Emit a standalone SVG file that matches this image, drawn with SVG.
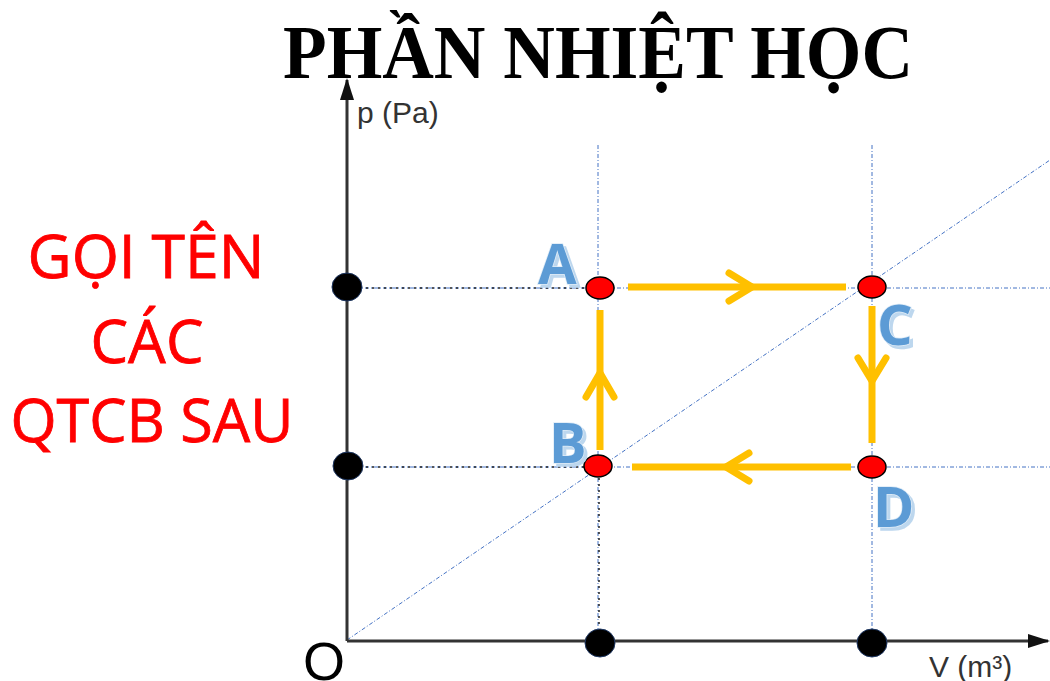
<svg xmlns="http://www.w3.org/2000/svg" width="1050" height="681" viewBox="0 0 1050 681">
<style>
.guide{stroke:#4472C4;stroke-width:1;stroke-dasharray:4 2 1 2;fill:none}
.blk{stroke:#222;stroke-width:1.5;stroke-dasharray:2 4;fill:none}
.axis{stroke:#333;stroke-width:3;fill:none}
.yel{stroke:#FFC000;stroke-width:7;stroke-linecap:round;fill:none}
.yelb{stroke:#FFC000;stroke-width:7;stroke-linecap:butt;fill:none}
.bdot{fill:#000;stroke:#1F3864;stroke-width:1}
.rdot{fill:#FF0000;stroke:#000;stroke-width:1.5}
.lbl{font-family:"Open Sans","Liberation Sans",sans-serif;font-weight:bold;font-size:56px;fill:#5B9BD5;stroke:#DEEBF7;stroke-width:1.5;paint-order:stroke;filter:url(#glow)}
.red{font-family:"Open Sans","Liberation Sans",sans-serif;font-size:60px;fill:#FF0000;stroke:#FF0000;stroke-width:0.8}
.ax{font-family:"Liberation Sans",Arial,sans-serif;font-size:30px;fill:#333}
</style>
<defs>
<marker id="ah" markerWidth="22" markerHeight="14" refX="20" refY="7" orient="auto" markerUnits="userSpaceOnUse" viewBox="0 0 22 14">
<path d="M0,0 L22,7 L0,14 z" fill="#111"/>
</marker>
<filter id="glow" x="-20%" y="-20%" width="150%" height="150%">
<feDropShadow dx="3" dy="3" stdDeviation="0.5" flood-color="#BDD7EE" flood-opacity="1"/>
</filter>
</defs>
<text x="598" y="78" text-anchor="middle" font-family="'Liberation Serif','Times New Roman',serif" font-weight="bold" font-size="76" textLength="630" lengthAdjust="spacingAndGlyphs" fill="#000">PHẦN NHIỆT HỌC</text>
<g id="guides">
<line class="guide" x1="347" y1="288" x2="1050" y2="288"/>
<line class="guide" x1="347" y1="467" x2="1050" y2="467"/>
<line class="guide" x1="598" y1="145" x2="598" y2="641"/>
<line class="guide" x1="872" y1="145" x2="872" y2="641"/>
<line class="guide" x1="347" y1="640" x2="1050" y2="160"/>
<line class="blk" x1="360" y1="288" x2="586" y2="288"/>
<line class="blk" x1="360" y1="467" x2="584" y2="467"/>
<line class="blk" x1="599" y1="478" x2="599" y2="628"/>
</g>
<g id="axes">
<line class="axis" x1="347" y1="641" x2="347" y2="80" marker-end="url(#ah)"/>
<line class="axis" x1="347" y1="641" x2="1048" y2="641" marker-end="url(#ah)"/>
<text class="ax" x="357" y="123">p (Pa)</text>
<text class="ax" x="929" y="677">V (m³)</text>
<text x="303" y="680" font-family="'Liberation Sans',Arial,sans-serif" font-size="54" fill="#000">O</text>
</g>
<g id="connectors">
<g id="AC"><line class="yelb" x1="628" y1="287" x2="846" y2="287"/><polyline class="yel" points="729,273 752,287 729,301"/></g>
<g id="CD"><line class="yelb" x1="872" y1="306" x2="872" y2="443"/><polyline class="yel" points="858,358 872,381 886,358"/></g>
<g id="DB"><line class="yelb" x1="851" y1="467" x2="632" y2="467"/><polyline class="yel" points="749,453 726,467 749,481"/></g>
<g id="BA"><line class="yelb" x1="600" y1="450" x2="600" y2="310"/><polyline class="yel" points="586,397 600,373 614,397"/></g>
</g>
<g id="axisdots">
<ellipse class="bdot" cx="347" cy="287" rx="15" ry="14"/>
<ellipse class="bdot" cx="348" cy="466" rx="15" ry="14"/>
<ellipse class="bdot" cx="600" cy="643" rx="15" ry="14"/>
<ellipse class="bdot" cx="872" cy="643" rx="15" ry="14"/>
</g>
<g id="nodeA"><ellipse class="rdot" cx="600" cy="288" rx="14" ry="11"/><text class="lbl" x="538" y="284">A</text></g>
<g id="nodeC"><ellipse class="rdot" cx="872" cy="287" rx="14" ry="11"/><text class="lbl" x="877" y="345">C</text></g>
<g id="nodeB"><ellipse class="rdot" cx="598" cy="466" rx="14" ry="11"/><text class="lbl" x="549" y="463">B</text></g>
<g id="nodeD"><ellipse class="rdot" cx="872" cy="467" rx="14" ry="11"/><text class="lbl" x="873" y="527">D</text></g>
<g id="question">
<text class="red" x="146" y="278" text-anchor="middle" textLength="237" lengthAdjust="spacingAndGlyphs">GỌI TÊN</text>
<text class="red" x="147" y="363" text-anchor="middle" textLength="113" lengthAdjust="spacingAndGlyphs">CÁC</text>
<text class="red" x="152" y="442" text-anchor="middle" textLength="283" lengthAdjust="spacingAndGlyphs">QTCB SAU</text>
</g>
</svg>
